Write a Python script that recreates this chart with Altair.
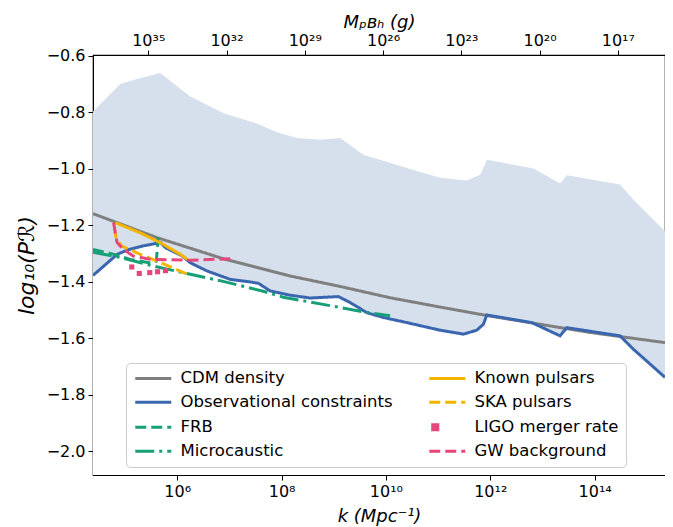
import altair as alt
import numpy as np
import pandas as pd

# ---- values (log10 k in Mpc^-1, log10 P_R) ----
band_lk = [4.385, 4.908, 5.228, 5.674, 6.249, 6.887, 7.527, 7.910, 8.293, 8.739, 9.123, 9.569,
           10.400, 11.038, 11.550, 11.805, 11.900, 11.933, 12.826, 13.337, 13.466, 14.487, 14.741, 15.349]
band_upper = [-0.797, -0.700, -0.682, -0.661, -0.744, -0.803, -0.840, -0.871, -0.891, -0.897, -0.891, -0.950,
              -0.997, -1.032, -1.042, -1.021, -0.985, -0.968, -0.999, -1.052, -1.023, -1.056, -1.109, -1.221]

obs_lk = [4.385, 4.851, 5.075, 5.330, 5.554, 5.680, 5.776, 6.096, 6.249, 6.569, 7.015, 7.398, 7.557, 7.782,
          8.165, 8.548, 9.090, 9.314, 9.634, 9.952, 10.400, 11.038, 11.485, 11.741, 11.868, 11.933, 12.795,
          13.337, 13.466, 14.487, 14.741, 15.349]
obs_y = [-1.378, -1.303, -1.286, -1.274, -1.266, -1.262, -1.280, -1.309, -1.333, -1.362, -1.392, -1.401, -1.406, -1.433,
         -1.448, -1.458, -1.453, -1.474, -1.510, -1.527, -1.545, -1.572, -1.586, -1.572, -1.551, -1.518, -1.545,
         -1.592, -1.563, -1.592, -1.639, -1.739]

cdm_lk = [4.385, 5.611, 6.887, 8.165, 9.123, 10.080, 11.038, 11.996, 12.954, 13.912, 15.349]
cdm_y = [-1.159, -1.244, -1.319, -1.380, -1.417, -1.457, -1.490, -1.522, -1.551, -1.580, -1.616]

known_lk = [4.812, 5.291, 5.674, 6.057, 6.192]
known_y = [-1.191, -1.227, -1.262, -1.303, -1.321]

ska_lk = [4.793, 4.831, 4.946, 5.291, 5.674, 6.249]
ska_y = [-1.208, -1.250, -1.275, -1.303, -1.332, -1.378]

gw_lk = [4.780, 4.812, 4.845, 4.966, 5.157, 5.483, 6.249, 7.015]
gw_y = [-1.191, -1.226, -1.261, -1.286, -1.309, -1.321, -1.324, -1.319]

ligo_lk = [5.128, 5.272, 5.473, 5.623, 5.776]
ligo_y = [-1.348, -1.371, -1.368, -1.365, -1.361]

frb_lk = [4.385, 4.716, 5.100, 5.521, 5.598, 5.636]
frb_y = [-1.286, -1.300, -1.321, -1.335, -1.328, -1.243]

micro_lk = [4.385, 4.908, 5.483, 6.249, 6.881, 7.648, 8.031, 8.989, 9.506, 10.080]
micro_y = [-1.296, -1.314, -1.342, -1.374, -1.399, -1.434, -1.455, -1.487, -1.505, -1.521]

m_offset = 45.889
bottom_ticks = [1e6, 1e8, 1e10, 1e12, 1e14]
top_ticks = [1e17, 1e20, 1e23, 1e26, 1e29, 1e32, 1e35]
y_ticks = [-2.0, -1.8, -1.6, -1.4, -1.2, -1.0, -0.8, -0.6]

# legend order (filled column by column)
series_order = ["CDM density", "Observational constraints", "FRB", "Microcaustic",
                "Known pulsars", "SKA pulsars", "LIGO merger rate", "GW background"]
series_colors = ["#7f7f7f", "#3a66b0", "#17a077", "#17a077", "#f5b400", "#f5b400", "#e8457a", "#e8457a"]
series_dash = [[1, 0], [1, 0], [11, 5], [19, 5, 3, 5], [1, 0], [11, 5], [1, 0], [11, 5]]
LINE = "M-1,0H5"
series_shape = [LINE, LINE, LINE, LINE, LINE, LINE, "square", LINE]
series_size = [144, 144, 144, 144, 144, 144, 26, 144]


def frame(name, lk, y):
    return pd.DataFrame({"series": name, "k": 10 ** np.array(lk), "y": y, "i": range(len(lk))})


lines_df = pd.concat([
    frame("CDM density", cdm_lk, cdm_y),
    frame("Observational constraints", obs_lk, obs_y),
    frame("FRB", frb_lk, frb_y),
    frame("Microcaustic", micro_lk, micro_y),
    frame("Known pulsars", known_lk, known_y),
    frame("SKA pulsars", ska_lk, ska_y),
    frame("GW background", gw_lk, gw_y),
], ignore_index=True)
ligo_df = frame("LIGO merger rate", ligo_lk, ligo_y)
band_df = frame("band", band_lk, band_upper)
obs_df = frame("Observational constraints", obs_lk, obs_y)

y_min, y_max = -2.085, -0.597
k_min, k_max = 10 ** 4.385, 10 ** 15.349

SUP = "['⁰','¹','²','³','⁴','⁵','⁶','⁷','⁸','⁹']"
E = "round(log(datum.value)/LN10)"
sup_expr = f"'10' + ({E} >= 10 ? {SUP}[floor({E}/10)] : '') + {SUP}[{E} % 10]"

xscale = alt.Scale(type="log", domain=[k_min, k_max], nice=False, zero=False)
yscale = alt.Scale(domain=[y_min, y_max], nice=False, zero=False)
xaxis = alt.Axis(values=bottom_ticks, labelExpr=sup_expr, title="k (Mpc⁻¹)", titleFontSize=18,
                 titleFontStyle="italic", titlePadding=8, grid=False)
yaxis = alt.Axis(values=y_ticks, format=".1f", title="log₁₀(Pℛ)", titleFontSize=22,
                 titleFontStyle="italic", titlePadding=8, grid=False)

X = alt.X("k:Q", scale=xscale, axis=xaxis)
Y = alt.Y("y:Q", scale=yscale, axis=yaxis)

legend = alt.Legend(title=None, orient="none", legendX=33, legendY=308, columns=2,
                    columnPadding=30, rowPadding=7, labelFontSize=16.5, labelOffset=31,
                    symbolStrokeWidth=3, padding=7, fillColor="rgba(255,255,255,0.85)",
                    strokeColor="#cccccc", cornerRadius=4, labelLimit=400)

color = alt.Color("series:N", scale=alt.Scale(domain=series_order, range=series_colors), legend=legend)
dash = alt.StrokeDash("series:N", scale=alt.Scale(domain=series_order, range=series_dash), legend=legend)
shape = alt.Shape("series:N", scale=alt.Scale(domain=series_order, range=series_shape), legend=legend)
size = alt.Size("series:N", scale=alt.Scale(type="ordinal", domain=series_order, range=series_size), legend=legend)

band = alt.Chart(band_df).mark_area(color="#d6e0ec", clip=True).encode(x=X, y=Y, y2=alt.datum(y_min))
mask = alt.Chart(obs_df).mark_area(color="white", clip=True).encode(x=X, y=Y, y2=alt.datum(y_min))
lines = alt.Chart(lines_df).mark_line(strokeWidth=3, clip=True).encode(
    x=X, y=Y, color=color, strokeDash=dash, order=alt.Order("i:Q"), detail="series:N")
points = alt.Chart(ligo_df).mark_point(filled=True, opacity=1, clip=True).encode(
    x=X, y=Y, color=color, shape=shape, size=size)

main = alt.layer(band, mask, lines, points)

top = alt.Chart(frame("top", cdm_lk, cdm_y)).transform_calculate(
    M=f"pow(10, {m_offset} - 2*log(datum.k)/LN10)"
).mark_point(opacity=0).encode(
    x=alt.X("M:Q",
            scale=alt.Scale(type="log", domain=[10 ** (m_offset - 2 * 15.349), 10 ** (m_offset - 2 * 4.385)],
                            reverse=True, nice=False, zero=False),
            axis=alt.Axis(orient="top", values=top_ticks, labelExpr=sup_expr, title="Mₚʙₕ (g)",
                          titleFontSize=18, titleFontStyle="italic", titlePadding=1, labelPadding=2,
                          grid=False)),
    y=Y,
)

chart = alt.layer(main, top).resolve_scale(x="independent").properties(
    width=572, height=420, autosize="none",
    padding={"left": 85, "top": 47, "right": 0, "bottom": 52},
).configure_view(stroke="black", strokeWidth=1.2).configure_axis(
    labelFont="DejaVu Sans", titleFont="DejaVu Sans", labelFontSize=16, labelColor="black",
    titleColor="black", titleFontWeight="normal", tickColor="black", domainColor="black",
    tickSize=5, labelPadding=3, grid=False
).configure_legend(labelFont="DejaVu Sans", labelColor="black")

chart.save("out.html", embed_options={"renderer": "svg", "actions": False})
